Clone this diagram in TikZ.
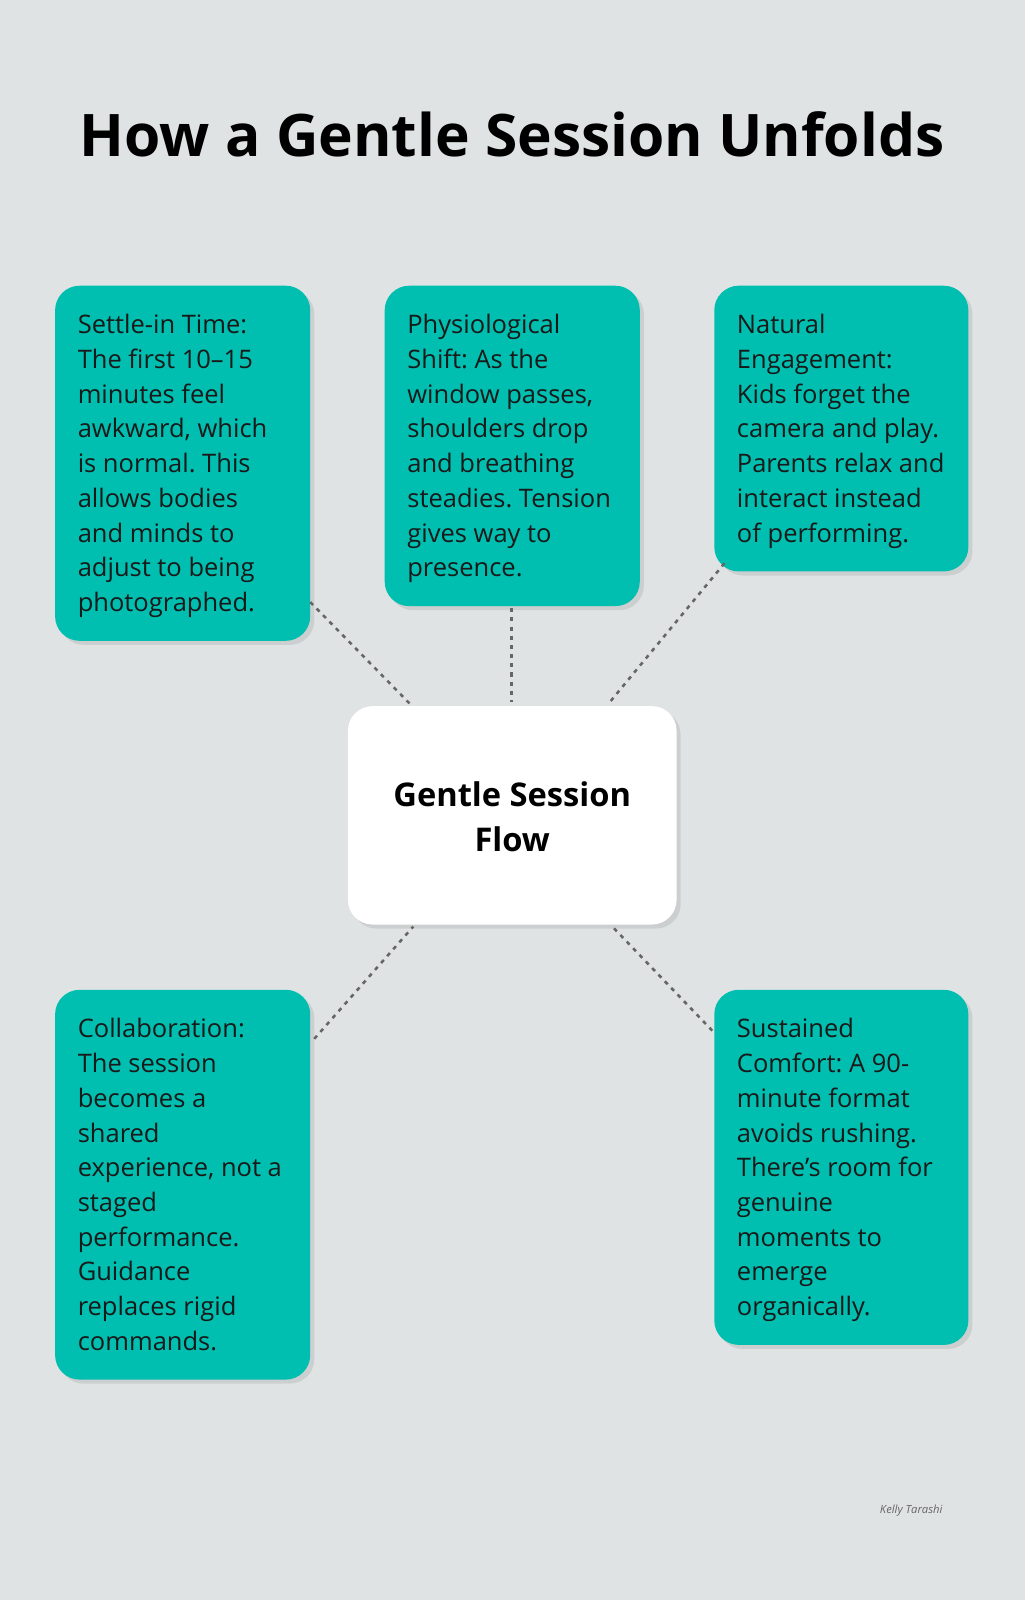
\documentclass[tikz,border=0pt]{standalone}
\usepackage{fontspec}
\setmainfont{Open Sans}
\frenchspacing
\usetikzlibrary{shadows}
\definecolor{bg}{HTML}{DFE3E3}
\definecolor{teal}{HTML}{00BFB0}
\definecolor{dotc}{HTML}{666666}
\begin{document}
\begin{tikzpicture}[x=1pt,y=-1pt,
  card/.style={rounded corners=24pt,fill=teal,drop shadow={shadow xshift=4pt,shadow yshift=-4pt,opacity=0.2}},
  txt/.style={anchor=north west,align=left,font=\fontsize{25}{34}\selectfont,inner sep=0pt,text=black!90},
  link/.style={dotc,line width=2.5pt,dash pattern=on 4pt off 5pt}]
\useasboundingbox (0,0) rectangle (1004,1568);
\fill[bg] (0,0) rectangle (1004,1568);
\node[font=\fontsize{57.5}{64}\selectfont\bfseries] (title) at (502,132) {How a Gentle Session Unfolds};
\fill[card] (54,280) rectangle (304,628);
\fill[card] (377,280) rectangle (627,594);
\fill[card] (700,280) rectangle (949,560);
\fill[card,fill=white] (341,692) rectangle (663,906);
\fill[card] (54,970) rectangle (304,1352);
\fill[card] (700,970) rectangle (949,1318);
\coordinate (a1) at (304,590); \coordinate (c1) at (402,690);
\coordinate (a2) at (501,596); \coordinate (c2) at (501,688);
\coordinate (a3) at (710,552); \coordinate (c3) at (596,690);
\coordinate (a4) at (308,1018); \coordinate (c4) at (405,908);
\coordinate (a5) at (698,1010); \coordinate (c5) at (600,908);
\foreach \i in {1,...,5} \draw[link] (a\i) -- (c\i);
\node[txt] (t1) at (76,308) {Settle-in Time:\\The first 10–15\\minutes feel\\awkward, which\\is normal. This\\allows bodies\\and minds to\\adjust to being\\photographed.};
\node[txt] (t2) at (399,308) {Physiological\\Shift: As the\\window passes,\\shoulders drop\\and breathing\\steadies. Tension\\gives way to\\presence.};
\node[txt] (t3) at (722,308) {Natural\\Engagement:\\Kids forget the\\camera and play.\\Parents relax and\\interact instead\\of performing.};
\node[font=\fontsize{32}{44}\selectfont\bfseries,align=center] (center) at (502,800) {Gentle Session\\Flow};
\node[txt] (t4) at (76,998) {Collaboration:\\The session\\becomes a\\shared\\experience, not a\\staged\\performance.\\Guidance\\replaces rigid\\commands.};
\node[txt] (t5) at (722,998) {Sustained\\Comfort: A 90-\\minute format\\avoids rushing.\\There’s room for\\genuine\\moments to\\emerge\\organically.};
\node[font=\itshape\fontsize{11}{12}\selectfont,text=black!60] (logo) at (893,1480) {Kelly Tarashi};
\end{tikzpicture}
\end{document}
